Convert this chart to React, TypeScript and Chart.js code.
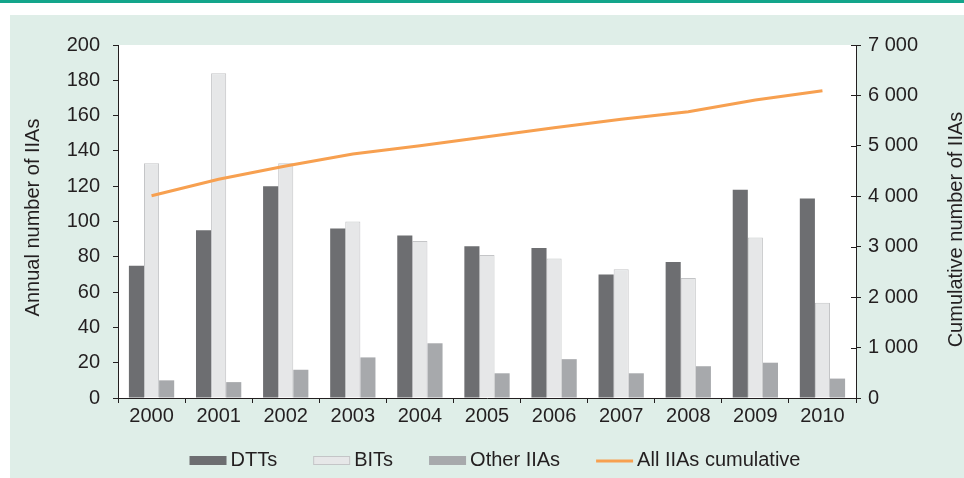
import React, { useEffect, useRef } from "react";
import { Chart, registerables } from "chart.js";

Chart.register(...registerables);

const years = ["2000", "2001", "2002", "2003", "2004", "2005", "2006", "2007", "2008", "2009", "2010"];
const dtts = [75, 95, 120, 96, 92, 86, 85, 70, 77, 118, 113];
const bits = [133, 184, 133, 100, 89, 81, 79, 73, 68, 91, 54];
const otherIIAs = [10, 9, 16, 23, 31, 14, 22, 14, 18, 20, 11];
const cumulative = [4012, 4337, 4600, 4839, 5003, 5182, 5360, 5527, 5677, 5909, 6094];

const seriesNames = ["DTTs", "BITs", "Other IIAs", "All IIAs cumulative"];
const leftTitle = "Annual number of IIAs";
const rightTitle = "Cumulative number of IIAs";
const leftAxis = { min: 0, max: 200, step: 20 };
const rightAxis = { min: 0, max: 7000, step: 1000 };

const TEXT = "#231f20";
const FONT = '"Liberation Sans", Arial, Helvetica, sans-serif';
const C_DTT = "#6d6e71";
const C_BIT = "#e6e7e8";
const C_BIT_BORDER = "#c4c5c7";
const C_OTHER = "#a7a9ac";
const C_LINE = "#f7a050";

const fmt = (v: number) => String(v).replace(/\B(?=(\d{3})+(?!\d))/g, " ");

const bgPlugin = {
  id: "plotBg",
  beforeDraw(chart: any) {
    const { ctx, chartArea: a } = chart;
    ctx.save();
    ctx.fillStyle = "#ffffff";
    ctx.fillRect(a.left, a.top, a.right - a.left, a.bottom - a.top);
    ctx.restore();
  },
};

const extrasPlugin = {
  id: "extras",
  afterDraw(chart: any) {
    const { ctx, chartArea: a } = chart;
    const y1 = chart.scales.y1;
    ctx.save();
    // inner tick marks of the right axis
    ctx.strokeStyle = TEXT;
    ctx.lineWidth = 1;
    y1.ticks.forEach((_t: any, i: number) => {
      const y = Math.round(y1.getPixelForTick(i)) + 0.5;
      ctx.beginPath();
      ctx.moveTo(a.right - 5, y);
      ctx.lineTo(a.right, y);
      ctx.stroke();
    });
    // axis titles
    ctx.font = `20px ${FONT}`;
    ctx.fillStyle = TEXT;
    ctx.textAlign = "center";
    ctx.textBaseline = "middle";
    ctx.save();
    ctx.translate(23, 202.5);
    ctx.rotate(-Math.PI / 2);
    ctx.fillText(leftTitle, 0, 0);
    ctx.restore();
    ctx.save();
    ctx.translate(946, 214.5);
    ctx.rotate(-Math.PI / 2);
    ctx.fillText(rightTitle, 0, 0);
    ctx.restore();

    // legend
    const ds = chart.data.datasets;
    const boxW = 37;
    const gapText = 4;
    const gapItem = 36;
    ctx.textAlign = "left";
    ctx.textBaseline = "alphabetic";
    const widths = ds.map((d: any) => ctx.measureText(d.label).width);
    let total = 0;
    widths.forEach((w: number) => (total += boxW + gapText + w));
    total += gapItem * (ds.length - 1);
    let x = 485 - total / 2;
    ds.forEach((d: any, i: number) => {
      if (d.type === "line") {
        ctx.fillStyle = d.borderColor;
        ctx.fillRect(x, 444.5, boxW, 3);
      } else {
        ctx.fillStyle = d.backgroundColor;
        ctx.fillRect(x, 441, boxW, 9);
        if (d.borderWidth) {
          ctx.strokeStyle = d.borderColor;
          ctx.lineWidth = 1;
          ctx.strokeRect(x + 0.5, 441.5, boxW - 1, 8);
        }
      }
      ctx.fillStyle = TEXT;
      ctx.fillText(d.label, x + boxW + gapText, 451);
      x += boxW + gapText + widths[i] + gapItem;
    });
    ctx.restore();
  },
};

export default function App() {
  const ref = useRef<HTMLCanvasElement | null>(null);

  useEffect(() => {
    if (!ref.current) return;
    Chart.defaults.font.family = FONT;
    Chart.defaults.color = TEXT;
    const chart = new Chart(ref.current, {
      type: "bar",
      data: {
        labels: years,
        datasets: [
          {
            type: "bar",
            label: seriesNames[0],
            data: dtts,
            backgroundColor: C_DTT,
            borderWidth: 0,
            yAxisID: "y",
            order: 1,
          },
          {
            type: "bar",
            label: seriesNames[1],
            data: bits,
            backgroundColor: C_BIT,
            borderColor: C_BIT_BORDER,
            borderWidth: 1,
            yAxisID: "y",
            order: 1,
          },
          {
            type: "bar",
            label: seriesNames[2],
            data: otherIIAs,
            backgroundColor: C_OTHER,
            borderWidth: 0,
            yAxisID: "y",
            order: 1,
          },
          {
            type: "line",
            label: seriesNames[3],
            data: cumulative,
            borderColor: C_LINE,
            backgroundColor: C_LINE,
            borderWidth: 3,
            pointRadius: 0,
            tension: 0,
            yAxisID: "y1",
            order: 0,
          },
        ] as any,
      },
      options: {
        responsive: false,
        animation: false,
        datasets: { bar: { categoryPercentage: 0.675, barPercentage: 1 } } as any,
        layout: { padding: { top: 30, left: 0, right: 0, bottom: 48 } },
        plugins: { legend: { display: false }, tooltip: { enabled: false } },
        scales: {
          x: {
            offset: true,
            grid: { offset: true, drawOnChartArea: false, drawTicks: true, tickLength: 5, color: TEXT },
            border: { display: true, color: TEXT, width: 1 },
            ticks: { font: { size: 20 }, color: TEXT, padding: 1, autoSkip: false, maxRotation: 0 },
            afterFit: (s: any) => {
              s.height = 34;
            },
          },
          y: {
            position: "left",
            min: leftAxis.min,
            max: leftAxis.max,
            grid: { drawOnChartArea: false, drawTicks: true, tickLength: 5, color: TEXT },
            border: { display: true, color: TEXT, width: 1 },
            ticks: { stepSize: leftAxis.step, font: { size: 20 }, color: TEXT, padding: 13 },
            afterFit: (s: any) => {
              s.width = 108;
            },
          },
          y1: {
            position: "right",
            min: rightAxis.min,
            max: rightAxis.max,
            grid: { drawOnChartArea: false, drawTicks: true, tickLength: 5, color: TEXT },
            border: { display: true, color: TEXT, width: 1 },
            ticks: {
              stepSize: rightAxis.step,
              font: { size: 20 },
              color: TEXT,
              padding: 7,
              callback: (v: any) => fmt(Number(v)),
            },
            afterFit: (s: any) => {
              s.width = 114;
            },
          },
        },
      } as any,
      plugins: [bgPlugin, extrasPlugin],
    });
    return () => chart.destroy();
  }, []);

  return (
    <div>
      <div style={{ position: "fixed", left: 0, top: 0, width: 964, height: 3, background: "#13a58b" }} />
      <div style={{ position: "fixed", left: 10, top: 15, width: 954, height: 463, background: "#dfeee8" }} />
      <canvas
        ref={ref}
        width={960}
        height={465}
        style={{ position: "fixed", left: 10, top: 15, width: 960, height: 465 }}
      />
    </div>
  );
}
